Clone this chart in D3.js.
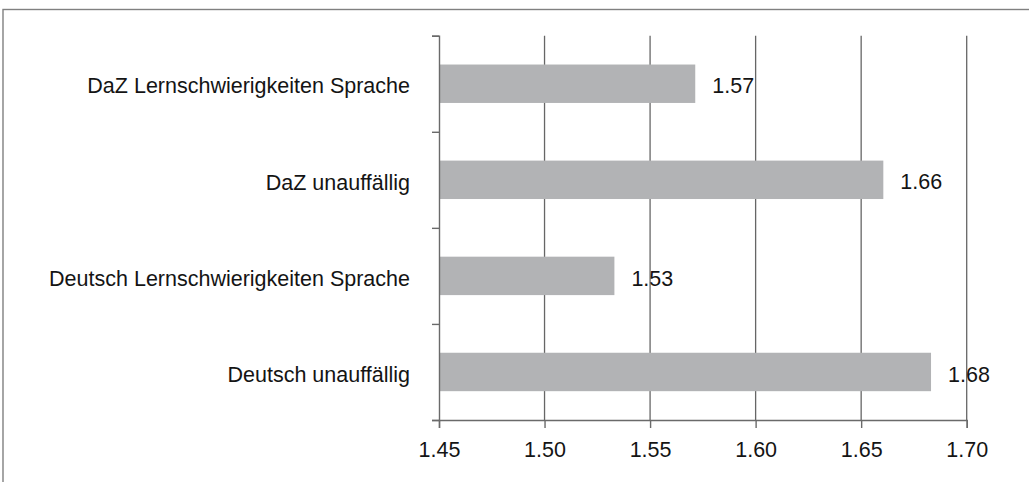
<!DOCTYPE html>
<html>
<head>
<meta charset="utf-8">
<script src="https://cdn.jsdelivr.net/npm/d3@7"></script>
<style>
  body { margin: 0; background: #fff; }
  svg { display: block; }
  text { font-family: "Liberation Sans", Arial, sans-serif; font-size: 21.5px; fill: #141414; }
</style>
</head>
<body>
<svg width="1029" height="482"></svg>
<script>
var categories = [
  "DaZ Lernschwierigkeiten Sprache",
  "DaZ unauffällig",
  "Deutsch Lernschwierigkeiten Sprache",
  "Deutsch unauffällig"
];
var values = [1.5714, 1.6605, 1.5331, 1.6831];
var xTicks = [1.45, 1.50, 1.55, 1.60, 1.65, 1.70];

var svg = d3.select("svg"),
    margin = {top: 35.7, right: 62.3, bottom: 62, left: 439},
    width = +svg.attr("width") - margin.left - margin.right,
    height = +svg.attr("height") - margin.top - margin.bottom;

// frame round the chart (runs off the right and bottom edge)
svg.append("rect")
  .attr("x", 3).attr("y", 9.5)
  .attr("width", 1040).attr("height", 490)
  .attr("fill", "none")
  .attr("stroke", "#808080")
  .attr("stroke-width", 1.4);

var g = svg.append("g")
  .attr("transform", "translate(" + margin.left + "," + margin.top + ")");

var xScale = d3.scaleLinear().domain([1.45, 1.70]).range([0, width]);
var yScale = d3.scaleBand().domain(categories).range([0, height]);
var yEdges = d3.scaleLinear().domain([0, categories.length]).range([0, height]);

// gridlines
g.append("g")
  .selectAll("line")
  .data(xTicks.slice(1))
  .enter().append("line")
    .attr("x1", function(d) { return xScale(d); })
    .attr("x2", function(d) { return xScale(d); })
    .attr("y1", 0)
    .attr("y2", height)
    .attr("stroke", "#666")
    .attr("stroke-width", 1.3);

// bars
var barH = yScale.bandwidth() * 0.4;
g.append("g")
  .selectAll("rect")
  .data(values)
  .enter().append("rect")
    .attr("x", xScale(1.45))
    .attr("y", function(d, i) { return yScale(categories[i]) + (yScale.bandwidth() - barH) / 2; })
    .attr("width", function(d) { return xScale(d) - xScale(1.45); })
    .attr("height", barH)
    .attr("fill", "#b2b3b5");

// value labels
g.append("g")
  .selectAll("text")
  .data(values)
  .enter().append("text")
    .attr("x", function(d) { return xScale(d) + 17; })
    .attr("y", function(d, i) { return yScale(categories[i]) + yScale.bandwidth() / 2; })
    .attr("dy", "0.45em")
    .text(function(d) { return d.toFixed(2); });

// x axis
var xAxis = g.append("g")
  .attr("transform", "translate(0," + height + ")")
  .call(d3.axisBottom(xScale).tickValues(xTicks).tickSize(8).tickPadding(14)
    .tickFormat(d3.format(".2f")));

// y axis: ticks at the band edges, labels in the middle
var yAxis = g.append("g")
  .call(d3.axisLeft(yEdges).tickValues(d3.range(categories.length + 1))
    .tickSize(7).tickFormat(""));

var yLabels = g.append("g")
  .call(d3.axisLeft(yScale).tickSize(0).tickPadding(29));
yLabels.select(".domain").remove();
yLabels.selectAll("text").attr("dy", "0.45em");

g.selectAll(".domain, .tick line")
  .attr("stroke", "#6a6a6a")
  .attr("stroke-width", 1.4);
g.selectAll(".tick text")
  .style("font-family", "\"Liberation Sans\", Arial, sans-serif")
  .style("font-size", "21.5px")
  .attr("fill", "#141414");
</script>
</body>
</html>
